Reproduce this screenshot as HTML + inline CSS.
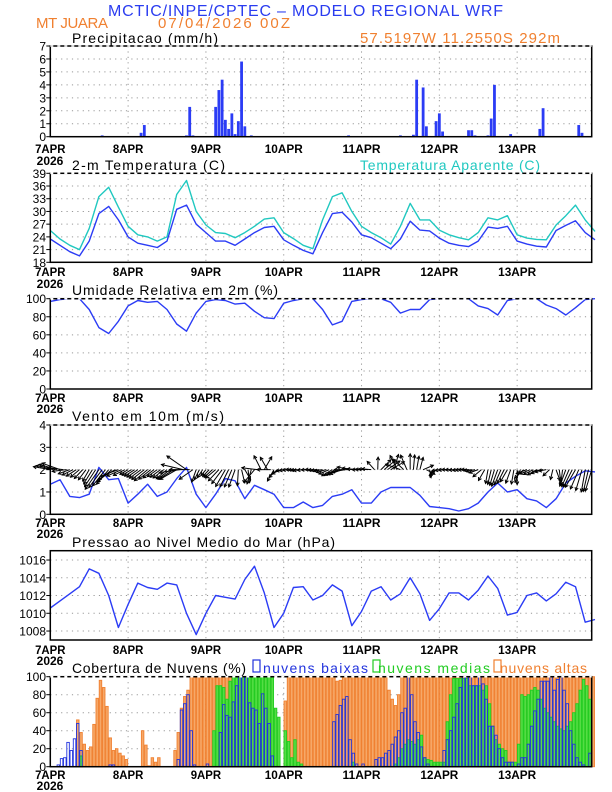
<!DOCTYPE html>
<html><head><meta charset="utf-8"><style>
html,body{margin:0;padding:0;background:#fff;}
svg{display:block;font-family:"Liberation Sans",sans-serif;}
</style></head><body>
<svg id="chart" width="612" height="792" viewBox="0 0 612 792" xmlns="http://www.w3.org/2000/svg">
<text x="108" y="16" fill="#2a3cf0" font-size="16" textLength="395">MCTIC/INPE/CPTEC – MODELO REGIONAL WRF</text>
<text x="36" y="28" fill="#f08030" font-size="15" textLength="72">MT JUARA</text>
<text x="158" y="28" fill="#f08030" font-size="15" textLength="132">07/04/2026 00Z</text>
<text x="360" y="43" fill="#f08030" font-size="15" textLength="200">57.5197W 11.2550S 292m</text>
<text x="72" y="43" font-size="14" textLength="146">Precipitacao (mm/h)</text>
<text x="72" y="170" font-size="14" textLength="153">2-m Temperatura (C)</text>
<text x="360" y="170" font-size="14" fill="#20c8c0" textLength="180">Temperatura Aparente (C)</text>
<text x="72" y="295" font-size="14" textLength="206">Umidade Relativa em 2m (%)</text>
<text x="72" y="421" font-size="14" textLength="152">Vento em 10m (m/s)</text>
<text x="72" y="547" font-size="14" textLength="263">Pressao ao Nivel Medio do Mar (hPa)</text>
<text x="72" y="673" font-size="14" textLength="174">Cobertura de Nuvens (%)</text>
<rect x="253" y="660" width="7" height="12" fill="none" stroke="#2233dd" stroke-width="1.2"/>
<text x="263" y="673" font-size="14" fill="#2233dd" textLength="105">nuvens baixas</text>
<rect x="373" y="660" width="7" height="12" fill="none" stroke="#22cc22" stroke-width="1.2"/>
<text x="378" y="673" font-size="14" fill="#22cc22" textLength="112">nuvens medias</text>
<rect x="494" y="660" width="7" height="12" fill="none" stroke="#f08030" stroke-width="1.2"/>
<text x="500" y="673" font-size="14" fill="#f08030" textLength="87">nuvens altas</text>
</svg>
<script>
// ---- data ----
const dayLabels = ["7APR","8APR","9APR","10APR","11APR","12APR","13APR"];
const hours3 = [];
for (let i = 0; i <= 56; i++) hours3.push(i * 3);
const tempVals = [23.5,22,20.5,19.5,23,29.5,31.2,28,24,22.5,22,21.5,23,30.5,31.5,27,25,23,23,22,23.5,25,26.2,26.5,23.3,22,20.8,20,25,29.5,29.8,27.5,24.5,23.8,22.5,21.2,23.5,27.7,25.6,25.4,23.7,22.5,22,21.7,23,26.3,26,26.5,23,22.3,21.8,21.6,25.5,26.7,27.8,25,23.3];
const appTempVals = [25.5,23.5,22,21,26,33.5,35.7,31,26.5,24.5,24,23,24,34,37.3,30,26.8,25,24.8,23.8,25,26.5,28.2,28.5,25,23.6,22,21.2,28,33.5,34.4,30,26.5,25,23.8,22.3,26.5,31.9,28,28,25.6,24.5,23.8,23.3,25,28.5,28,29,24.5,23.7,23.4,23.3,26.8,29,31.5,28,25.3];
const rhVals = [97,99,100,100,88,68,61.5,75,92,98,96,97,88,72,64,84,97,99,98,94,95,86,79,78,95,98,100,100,88,71,75,97,99,100,100,96,84,88,88,99,100,100,100,100,92,89,82,98,100,100,100,93,89,82,90,99,100];
const windVals = [1.35,1.55,0.8,0.75,0.9,2.1,1.55,1.6,0.5,0.9,1.35,0.8,1.0,1.6,2.1,0.9,0.3,0.9,1.6,1.5,0.7,1.3,1.1,0.9,0.3,0.3,0.55,0.3,0.4,0.8,0.9,1.1,0.5,0.5,1.0,1.2,1.2,1.2,0.85,0.35,0.3,0.25,0.15,0.25,0.5,1.0,1.4,1.0,1.1,0.7,0.6,0.3,0.7,1.4,1.7,1.95,1.9];
const windDirVals = [170,160,200,220,240,235,230,200,210,215,220,215,220,210,145,250,230,220,240,250,300,230,60,240,190,180,185,180,190,210,200,170,180,175,45,30,160,90,75,280,190,180,185,180,200,260,250,240,270,200,210,190,290,250,240,260,250];
const pressVals = [1010.6,1011.4,1012.2,1013,1015,1014.5,1012,1008.4,1011,1013.4,1012.9,1012.7,1013.4,1013.2,1010,1007.6,1010,1012,1011.8,1011.6,1013.8,1015.3,1012.3,1008.4,1010,1012.9,1013,1011.5,1012,1013.2,1012.5,1008.6,1010.2,1012.5,1013,1011.5,1012.2,1014,1012.2,1009.2,1010.5,1012.3,1012.3,1011.5,1012.6,1014.2,1012.8,1009.8,1010.1,1012,1012.3,1011.4,1012.2,1013.5,1013,1009,1009.3];
const precipHours = [16,18,28,29,42,43,44,51,52,53,54,55,56,57,58,59,60,62,66,92,93,96,108,112,113,114,115,116,119,120,121,129,130,131,132,135,136,137,142,151,152,163,164];
const precipVals = [0.1,0.05,0.3,0.9,0.1,2.3,0.1,2.3,3.6,4.4,1.3,0.6,1.8,0.2,1.2,5.8,0.8,0.1,0.05,0.1,0.05,0.05,0.1,0.15,4.4,0.05,3.8,0.8,1.2,1.8,0.4,0.5,0.5,0.1,0.05,0.1,1.4,4.0,0.2,0.6,2.2,0.9,0.3];
const lowClouds = [
0,0,2,9,10,27,18,31,48,18,0,0,0,0,0,0,0,0,2,2,0,0,0,0,
0,0,0,0,0,0,0,0,0,0,0,0,0,0,0,8,63,70,80,40,2,0,0,0,
3,0,0,0,38,69,57,55,72,90,100,100,100,71,65,63,48,81,65,48,12,0,0,0,
0,0,0,0,0,0,0,0,0,0,0,0,0,0,0,50,58,68,75,78,30,15,3,0,
3,0,0,0,8,10,10,15,18,25,33,40,60,65,100,80,50,38,22,10,3,0,0,0,
0,18,30,40,55,70,88,100,100,100,90,90,100,92,75,45,45,35,20,10,5,5,5,0,
3,10,10,25,45,62,75,95,95,95,100,85,97,100,85,70,40,25,10,5,2,0,15,0];
const midClouds = [
0,0,0,0,0,0,0,0,0,12,0,0,0,0,0,0,0,0,0,0,0,0,0,0,
0,0,0,0,0,0,0,0,0,0,0,0,0,0,0,0,0,0,0,0,0,0,0,0,
0,0,40,90,90,88,75,95,100,100,100,100,100,100,100,100,100,100,100,100,100,65,55,0,
40,28,10,30,5,3,0,0,0,0,0,0,0,0,0,0,0,0,0,0,0,5,0,0,
0,0,0,0,0,0,0,0,0,0,3,10,20,25,30,28,25,30,35,10,8,7,5,5,
5,5,50,80,98,98,98,98,98,90,90,90,90,85,90,70,45,30,25,20,18,5,5,5,
25,80,78,80,85,88,85,75,65,60,55,50,45,42,40,45,50,60,70,85,97,90,75,0];
const highClouds = [
0,0,0,0,0,0,0,0,52,38,25,18,22,47,76,96,88,67,32,18,20,15,12,8,
0,0,0,0,40,24,1,10,5,10,0,0,0,0,18,38,65,78,85,100,100,100,100,100,
100,100,100,100,100,100,100,100,100,100,100,100,100,100,100,100,100,100,100,100,60,40,25,0,
73,100,100,100,100,100,100,100,100,100,100,100,100,100,100,100,95,96,100,100,100,100,100,100,
100,100,100,100,100,100,100,100,85,75,68,80,100,100,100,100,100,100,100,100,100,100,100,100,
100,100,100,100,100,100,100,100,100,100,100,100,100,100,100,100,100,100,100,100,100,100,100,100,
100,100,100,100,100,100,100,100,100,100,100,100,100,100,100,100,100,100,100,100,100,100,100,100];
const precipTicks = [0,1,2,3,4,5,6,7];
const tempTicks = [18,21,24,27,30,33,36,39];
const rhTicks = [0,20,40,60,80,100];
const windTicks = [0,1,2,3,4];
const pressTicks = [1008,1010,1012,1014,1016];
const cloudTicks = [0,20,40,60,80,100];

// ---- drawing ----
const svg = document.getElementById('chart');
const NS = 'http://www.w3.org/2000/svg';
const X0 = 50.3, PX_H = 3.242, X1 = 591.7;
function xs(h){ return X0 + h * PX_H; }
function mk(tag, attrs, parent){
  const e = document.createElementNS(NS, tag);
  for (const k in attrs) e.setAttribute(k, attrs[k]);
  (parent || svg).appendChild(e);
  return e;
}
function panel(name, top, bot, vmin, vmax, ticks, labelY, yearY){
  const g = mk('g', {});
  
  
  const ys = v => bot - (v - vmin) / (vmax - vmin) * (bot - top);
  ticks.forEach(t => {
    const y = ys(t);
    if (t !== vmin && t !== vmax) {
      const l = mk('line', {x1:X0, x2:X1, y1:y, y2:y, stroke:'#999', 'stroke-width':1, 'stroke-dasharray':'1.2,4.2'}, g);
      
      
    }
    const tx = mk('text', {x:46, y:y+4.5, 'text-anchor':'end', 'font-size':12}, g);
    tx.textContent = t;
    
    
    const tk = mk('line', {x1:X0-4, x2:X0, y1:y, y2:y, stroke:'#000', 'stroke-width':1}, g);
    
    
  });
  dayLabels.forEach((d, i) => {
    const x = xs(i * 24);
    if (i > 0) {
      const l = mk('line', {x1:x, x2:x, y1:top, y2:bot, stroke:'#999', 'stroke-width':1, 'stroke-dasharray':'1.2,4.2'}, g);
      
      
    }
    const tx = mk('text', {x:x, y:labelY, 'text-anchor':'middle', 'font-size':12, 'font-weight':'bold', textLength: d.length * 7.6, lengthAdjust:'spacingAndGlyphs'}, g);
    tx.textContent = d;
    
    
  });
  if (yearY) {
    const yr = mk('text', {x:50, y:yearY, 'text-anchor':'middle', 'font-size':12, 'font-weight':'bold'}, g);
    yr.textContent = '2026';
    
    
  }
  return {g, ys, top, bot};
}
function frame(p, name, dashedTop){
  const r = mk('rect', {x:X0, y:p.top, width:X1-X0, height:p.bot-p.top, fill:'none', stroke:'#000', 'stroke-width':1.5});
  
  
  if (dashedTop) {
    const d = mk('line', {x1:X0, x2:X1, y1:p.top, y2:p.top, stroke:'#fff', 'stroke-width':1.6, 'stroke-dasharray':'3,4'});
    
    
  }
}
function line(p, hrs, vals, color, name){
  const pts = hrs.map((h, i) => xs(h).toFixed(1) + ',' + p.ys(vals[i]).toFixed(1)).join(' ');
  const pl = mk('polyline', {points:pts, fill:'none', stroke:color, 'stroke-width':1.4, 'stroke-linejoin':'round'});
  
  
}

// Precip
const pP = panel('precip', 46, 136.7, 0, 7, precipTicks, 153, 165);
precipHours.forEach((h, i) => {
  const y = pP.ys(precipVals[i]);
  const b = mk('rect', {x:xs(h)-1.4, y:y, width:2.8, height:pP.bot-y, fill:'#2b3cf5'});
  
  
});
frame(pP, 'precip', true);

// Temperature
const pT = panel('temp', 173.3, 262.3, 18, 39, tempTicks, 276, 288);
line(pT, hours3, appTempVals, '#20c8c0', 'apparent-temp-line');
line(pT, hours3, tempVals, '#2b3cf5', 'temp-line');
frame(pT, 'temp', true);

// RH
const pR = panel('rh', 298.7, 389, 0, 100, rhTicks, 402, 413);
line(pR, hours3, rhVals, '#2b3cf5', 'rh-line');
frame(pR, 'rh', true);

// Wind
const pW = panel('wind', 425, 514.3, 0, 4, windTicks, 527, 538);
line(pW, hours3, windVals, '#2b3cf5', 'wind-speed-line');
const baseY = pW.ys(2);
for (let h = 0; h < 168; h++) {
  const i = Math.floor(h / 3), f = (h % 3) / 3;
  let a0 = windDirVals[i], a1 = windDirVals[i + 1];
  let da = a1 - a0; if (da > 180) da -= 360; if (da < -180) da += 360;
  const ang = (a0 + da * f) * Math.PI / 180;
  const sp = windVals[i] + (windVals[i + 1] - windVals[i]) * f;
  const len = 5 + sp * 9;
  const x0 = xs(h), x1 = x0 + Math.cos(ang) * len, y1 = baseY - Math.sin(ang) * len;
  const a = mk('line', {x1:x0, y1:baseY, x2:x1, y2:y1, stroke:'#000', 'stroke-width':1});
  
  
  const hl = 3.5, ha = 0.5;
  const p1x = x1 - Math.cos(ang - ha) * hl, p1y = y1 + Math.sin(ang - ha) * hl;
  const p2x = x1 - Math.cos(ang + ha) * hl, p2y = y1 + Math.sin(ang + ha) * hl;
  const hd = mk('polyline', {points:`${p1x},${p1y} ${x1},${y1} ${p2x},${p2y}`, fill:'none', stroke:'#000', 'stroke-width':1});
  
  
}
frame(pW, 'wind', true);

// Pressure
const pPr = panel('pressure', 550.7, 640, 1006.99, 1017.05, pressTicks, 654, 665);
line(pPr, hours3, pressVals, '#2b3cf5', 'pressure-line');
frame(pPr, 'pressure', false);

// Clouds
const pC = panel('cloud', 676.7, 766.7, 0, 100, cloudTicks, 779, 790);
function cloudBars(vals, fill, stroke, name){
  vals.forEach((v, h) => {
    if (v <= 0) return;
    const y = pC.ys(v);
    const b = mk('rect', {x:xs(h)+0.3, y:y, width:2.5, height:pC.bot-y, fill:fill, stroke:stroke, 'stroke-width':0.9});
    
    
  });
}
cloudBars(highClouds, '#f6a868', '#f08030', 'high-cloud-bar');
cloudBars(midClouds, '#55dd44', '#22cc22', 'mid-cloud-bar');
cloudBars(lowClouds, 'none', '#2233dd', 'low-cloud-bar');
frame(pC, 'cloud', true);
</script>
</body></html>
